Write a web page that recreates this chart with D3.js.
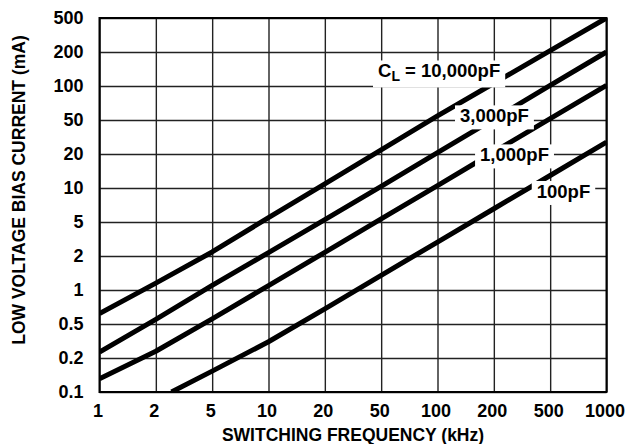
<!DOCTYPE html>
<html>
<head>
<meta charset="utf-8">
<script src="https://cdn.jsdelivr.net/npm/d3@7"></script>
<style>
  body { margin: 0; background: #fff; }
  svg { display: block; font-family: "Liberation Sans", Arial, sans-serif; font-weight: bold; }
</style>
</head>
<body>
<svg></svg>
<script>
// tick values (the grid is drawn as equal steps for each 1-2-5 value)
var freqTicks = [1, 2, 5, 10, 20, 50, 100, 200, 500, 1000];
var currentTicks = [0.1, 0.2, 0.5, 1, 2, 5, 10, 20, 50, 100, 200, 500];

// [frequency kHz, current mA]
var cl10000 = [[1, 0.62], [2, 1.15], [5, 2.23], [10, 5.47], [20, 10.9], [50, 22.3], [100, 54.3], [200, 105.7], [500, 207.5], [1000, 500]];
var cl3000 = [[1, 0.234], [2, 0.55], [5, 1.1], [10, 2.19], [20, 5.25], [50, 10.35], [100, 20.75], [200, 51], [500, 101.4], [1000, 200]];
var cl1000 = [[1, 0.131], [2, 0.24], [5, 0.555], [10, 1.094], [20, 2.21], [50, 5.32], [100, 10.5], [200, 21.1], [500, 51.4], [1000, 101.4]];
var cl100 = [[2.58, 0.1], [5, 0.153], [10, 0.31], [20, 0.68], [50, 1.35], [100, 2.91], [200, 6.55], [500, 12.9], [1000, 27.6]];

var curves = [cl10000, cl3000, cl1000, cl100];
var curveNames = ['10,000pF', '3,000pF', '1,000pF', '100pF'];
// where each label sits, in chart units [kHz, mA]
var labelAt = [[102, 119], [202, 46.9], [280, 17.2], [589, 8.16]];

var width = 626;
var height = 444;
var plotLeft = 99.5, plotRight = 606.5, plotTop = 18, plotBottom = 392;

var xScale = d3.scaleLinear()
  .domain(freqTicks.map(Math.log10))
  .range(freqTicks.map((d, i) => plotLeft + i * (plotRight - plotLeft) / (freqTicks.length - 1)));

var yScale = d3.scaleLinear()
  .domain(currentTicks.map(Math.log10))
  .range(currentTicks.map((d, i) => plotBottom - i * (plotBottom - plotTop) / (currentTicks.length - 1)));

var px = d => xScale(Math.log10(d));
var py = d => yScale(Math.log10(d));

var svg = d3.select('svg')
  .attr('width', width)
  .attr('height', height);

var xAxis = d3.axisBottom(xScale)
  .tickValues(freqTicks.map(Math.log10))
  .tickFormat((d, i) => freqTicks[i])
  .tickSize(-(plotBottom - plotTop))
  .tickPadding(12);

var yAxis = d3.axisLeft(yScale)
  .tickValues(currentTicks.map(Math.log10))
  .tickFormat((d, i) => currentTicks[i])
  .tickSize(-(plotRight - plotLeft))
  .tickPadding(16);

var xg = svg.append('g')
  .attr('transform', 'translate(0,' + plotBottom + ')')
  .call(xAxis);

var yg = svg.append('g')
  .attr('transform', 'translate(' + plotLeft + ',0)')
  .call(yAxis);

[xg, yg].forEach(function (g) {
  g.attr('font-family', null).attr('font-size', null);
  g.select('.domain').remove();
  g.selectAll('.tick line')
    .attr('stroke', '#222')
    .attr('stroke-width', 1.4);
  g.selectAll('.tick text')
    .attr('fill', '#000')
    .style('font-size', '18px');
});

// x labels sit a touch left of their grid line
xg.selectAll('.tick text').attr('dx', -2);

svg.append('rect')
  .attr('x', plotLeft)
  .attr('y', plotTop)
  .attr('width', plotRight - plotLeft)
  .attr('height', plotBottom - plotTop)
  .attr('fill', 'none')
  .attr('stroke', '#000')
  .attr('stroke-width', 2);

svg.append('clipPath')
  .attr('id', 'plot')
  .append('rect')
  .attr('x', plotLeft)
  .attr('y', plotTop - 1)
  .attr('width', plotRight - plotLeft + 1)
  .attr('height', plotBottom - plotTop + 1);

var line = d3.line()
  .x(d => px(d[0]))
  .y(d => py(d[1]));

svg.append('g')
  .attr('clip-path', 'url(#plot)')
  .selectAll('path')
  .data(curves)
  .enter()
  .append('path')
  .attr('d', line)
  .attr('fill', 'none')
  .attr('stroke', '#000')
  .attr('stroke-width', 5)
  .attr('stroke-linejoin', 'round');

// curve labels with white boxes under them
curveNames.forEach(function (name, i) {
  var g = svg.append('g');
  var t = g.append('text')
    .attr('x', px(labelAt[i][0]))
    .attr('y', py(labelAt[i][1]))
    .attr('text-anchor', 'middle')
    .style('font-size', '18.5px');
  if (i === 0) {
    t.append('tspan').text('C');
    t.append('tspan').attr('dy', 4).style('font-size', '14px').text('L');
    t.append('tspan').attr('dy', -4).text(' = ' + name);
  } else {
    t.text(name);
  }
  var b = t.node().getBBox();
  g.insert('rect', 'text')
    .attr('x', b.x - 5)
    .attr('y', b.y)
    .attr('width', b.width + 10)
    .attr('height', b.height + 3)
    .attr('fill', '#fff');
});

svg.append('text')
  .attr('x', (plotLeft + plotRight) / 2)
  .attr('y', 441)
  .style('text-anchor', 'middle')
  .style('font-size', '17.5px')
  .text('SWITCHING FREQUENCY (kHz)');

svg.append('text')
  .attr('transform', 'rotate(-90)')
  .attr('x', -190)
  .attr('y', 25)
  .style('text-anchor', 'middle')
  .style('font-size', '17.5px')
  .text('LOW VOLTAGE BIAS CURRENT (mA)');
</script>
</body>
</html>
